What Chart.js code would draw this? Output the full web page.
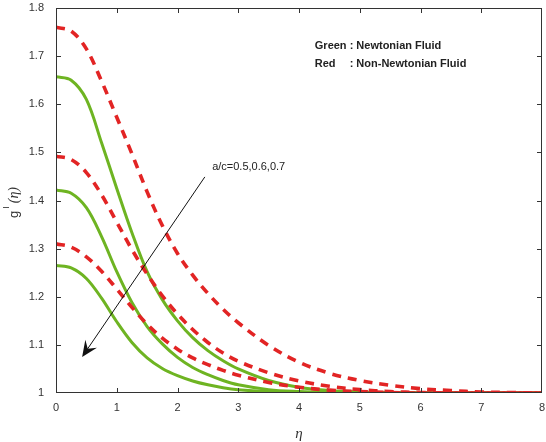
<!DOCTYPE html>
<html>
<head>
<meta charset="utf-8">
<script src="https://cdn.jsdelivr.net/npm/chart.js@4.4.0/dist/chart.umd.min.js"></script>
<style>
  html, body { margin: 0; padding: 0; background: #fff; }
  canvas { display: block; }
</style>
</head>
<body>
<canvas id="perfil" width="546" height="442"></canvas>
<script>
// valores de eta (eje X)
const eta = [0, 0.25, 0.5, 0.75, 1, 1.25, 1.5, 1.75, 2, 2.25, 2.5, 2.75, 3, 3.5, 4, 4.5, 5, 5.5, 6, 6.5, 7, 7.5, 8];

// Non-Newtonian (rojo, discontinuo) a/c = 0.5, 0.6, 0.7
const rojo05 = [1.76, 1.752, 1.715, 1.648, 1.573, 1.497, 1.418, 1.348, 1.29, 1.245, 1.207, 1.174, 1.146, 1.099, 1.064, 1.041, 1.026, 1.016, 1.009, 1.005, 1.002, 1.001, 1.0];
const rojo06 = [1.492, 1.485, 1.458, 1.412, 1.355, 1.298, 1.247, 1.202, 1.164, 1.132, 1.105, 1.083, 1.066, 1.042, 1.025, 1.014, 1.007, 1.003, 1.001, 1.0, 1.0, 1.0, 1.0];
const rojo07 = [1.31, 1.303, 1.283, 1.253, 1.216, 1.178, 1.143, 1.114, 1.091, 1.073, 1.059, 1.047, 1.037, 1.022, 1.012, 1.006, 1.003, 1.001, 1.0, 1.0, 1.0, 1.0, 1.0];

// Newtonian (verde, continuo)
const verde05 = [1.657, 1.65, 1.61, 1.52, 1.425, 1.333, 1.252, 1.194, 1.15, 1.115, 1.088, 1.067, 1.05, 1.026, 1.012, 1.005, 1.002, 1.001, 1.0, 1.0, 1.0, 1.0, 1.0];
const verde06 = [1.422, 1.415, 1.385, 1.325, 1.252, 1.188, 1.138, 1.102, 1.074, 1.053, 1.038, 1.026, 1.017, 1.007, 1.003, 1.001, 1.0, 1.0, 1.0, 1.0, 1.0, 1.0, 1.0];
const verde07 = [1.265, 1.26, 1.238, 1.197, 1.148, 1.105, 1.073, 1.051, 1.036, 1.025, 1.017, 1.011, 1.007, 1.003, 1.001, 1.0, 1.0, 1.0, 1.0, 1.0, 1.0, 1.0, 1.0];

// marcas de los ejes
const xTicks = [0, 1, 2, 3, 4, 5, 6, 7, 8];
const yTicks = [1, 1.1, 1.2, 1.3, 1.4, 1.5, 1.6, 1.7, 1.8];

const ROJO = 'rgb(226, 36, 36)';
const VERDE = 'rgb(110, 180, 34)';

const puntos = serie => serie.map((v, i) => ({ x: eta[i], y: v }));

const rojoDs = serie => ({
    data: puntos(serie),
    borderColor: ROJO,
    borderWidth: 3.6,
    borderDash: [9, 7],
    pointRadius: 0,
    tension: 0.35,
    fill: false
});
const verdeDs = serie => ({
    data: puntos(serie),
    borderColor: VERDE,
    borderWidth: 3,
    pointRadius: 0,
    tension: 0.35,
    fill: false
});

// marco, marcas hacia adentro, flecha y textos
const extras = {
    id: 'extras',
    afterDraw(chart) {
        const { ctx, chartArea: a, scales: { x, y } } = chart;
        ctx.save();
        ctx.strokeStyle = '#333';
        ctx.lineWidth = 1;
        ctx.strokeRect(a.left + 0.5, a.top + 0.5, a.right - a.left - 1, a.bottom - a.top - 1);

        ctx.beginPath();
        xTicks.slice(1, -1).forEach(t => {
            const px = Math.round(x.getPixelForValue(t)) + 0.5;
            ctx.moveTo(px, a.bottom); ctx.lineTo(px, a.bottom - 5);
            ctx.moveTo(px, a.top); ctx.lineTo(px, a.top + 5);
        });
        yTicks.slice(1, -1).forEach(t => {
            const py = Math.round(y.getPixelForValue(t)) + 0.5;
            ctx.moveTo(a.left, py); ctx.lineTo(a.left + 5, py);
            ctx.moveTo(a.right, py); ctx.lineTo(a.right - 5, py);
        });
        ctx.stroke();

        // flecha a/c
        const x0 = x.getPixelForValue(2.45), y0 = y.getPixelForValue(1.449);
        const x1 = x.getPixelForValue(0.43), y1 = y.getPixelForValue(1.075);
        const ang = Math.atan2(y1 - y0, x1 - x0);
        const c = Math.cos(ang), s = Math.sin(ang);
        ctx.strokeStyle = '#111';
        ctx.beginPath();
        ctx.moveTo(x0, y0);
        ctx.lineTo(x1 - 9 * c, y1 - 9 * s);
        ctx.stroke();
        ctx.fillStyle = '#111';
        ctx.beginPath();
        ctx.moveTo(x1, y1);
        ctx.lineTo(x1 - 16 * c + 7 * s, y1 - 16 * s - 7 * c);
        ctx.lineTo(x1 - 10 * c, y1 - 10 * s);
        ctx.lineTo(x1 - 16 * c - 7 * s, y1 - 16 * s + 7 * c);
        ctx.closePath();
        ctx.fill();

        ctx.fillStyle = '#222';
        ctx.font = '11px "Liberation Sans", Arial, sans-serif';
        ctx.textBaseline = 'middle';
        ctx.textAlign = 'left';
        ctx.fillText('a/c=0.5,0.6,0.7', x.getPixelForValue(2.57), y.getPixelForValue(1.47));

        // leyenda en texto
        ctx.font = 'bold 11px "Liberation Sans", Arial, sans-serif';
        const lx = x.getPixelForValue(4.26);
        ctx.fillText('Green : Newtonian Fluid', lx, y.getPixelForValue(1.721));
        ctx.fillText('Red', lx, y.getPixelForValue(1.684));
        const dx = ctx.measureText('Green ').width;
        ctx.fillText(': Non-Newtonian Fluid', lx + dx, y.getPixelForValue(1.684));

        // titulo eje X
        ctx.fillStyle = '#333';
        ctx.font = 'italic 15px "Liberation Serif", "Times New Roman", serif';
        ctx.textAlign = 'center';
        ctx.fillText('\u03b7', (a.left + a.right) / 2, 434);

        // titulo eje Y
        ctx.translate(14, 200);
        ctx.rotate(-Math.PI / 2);
        ctx.textAlign = 'left';
        ctx.font = '13px "Liberation Sans", Arial, sans-serif';
        ctx.fillText('g', -18, 0);
        let px = -18 + ctx.measureText('g').width + 2;
        ctx.font = '9px "Liberation Sans", Arial, sans-serif';
        ctx.fillText('I', px, -7);
        px += ctx.measureText('I').width + 3;
        ctx.font = 'italic 14px "Liberation Serif", "Times New Roman", serif';
        ctx.fillText('(\u03b7)', px, 0);
        ctx.restore();
    }
};

new Chart(document.getElementById('perfil').getContext('2d'), {
    type: 'line',
    data: {
        datasets: [
            rojoDs(rojo05), rojoDs(rojo06), rojoDs(rojo07),
            verdeDs(verde05), verdeDs(verde06), verdeDs(verde07)
        ]
    },
    options: {
        responsive: false,
        animation: false,
        devicePixelRatio: 1,
        layout: { padding: { top: 8, right: 4, left: 0, bottom: 0 } },
        plugins: { legend: { display: false }, tooltip: { enabled: false } },
        scales: {
            x: {
                type: 'linear',
                min: 0, max: 8,
                afterFit: s => { s.height = 49; s.paddingLeft = 0; s.paddingRight = 0; },
                afterBuildTicks: s => { s.ticks = xTicks.map(v => ({ value: v })); },
                grid: { display: false, drawTicks: false },
                border: { display: false },
                ticks: {
                    padding: 8,
                    color: '#333',
                    font: { family: '"Liberation Sans", Arial, sans-serif', size: 11 },
                    callback: v => String(v)
                }
            },
            y: {
                type: 'linear',
                min: 1, max: 1.8,
                afterFit: s => { s.width = 56; s.paddingTop = 0; s.paddingBottom = 0; },
                afterBuildTicks: s => { s.ticks = yTicks.map(v => ({ value: v })); },
                grid: { display: false, drawTicks: false },
                border: { display: false },
                ticks: {
                    padding: 12,
                    color: '#333',
                    font: { family: '"Liberation Sans", Arial, sans-serif', size: 11 },
                    callback: v => String(+v.toFixed(1))
                }
            }
        }
    },
    plugins: [extras]
});
</script>
</body>
</html>
